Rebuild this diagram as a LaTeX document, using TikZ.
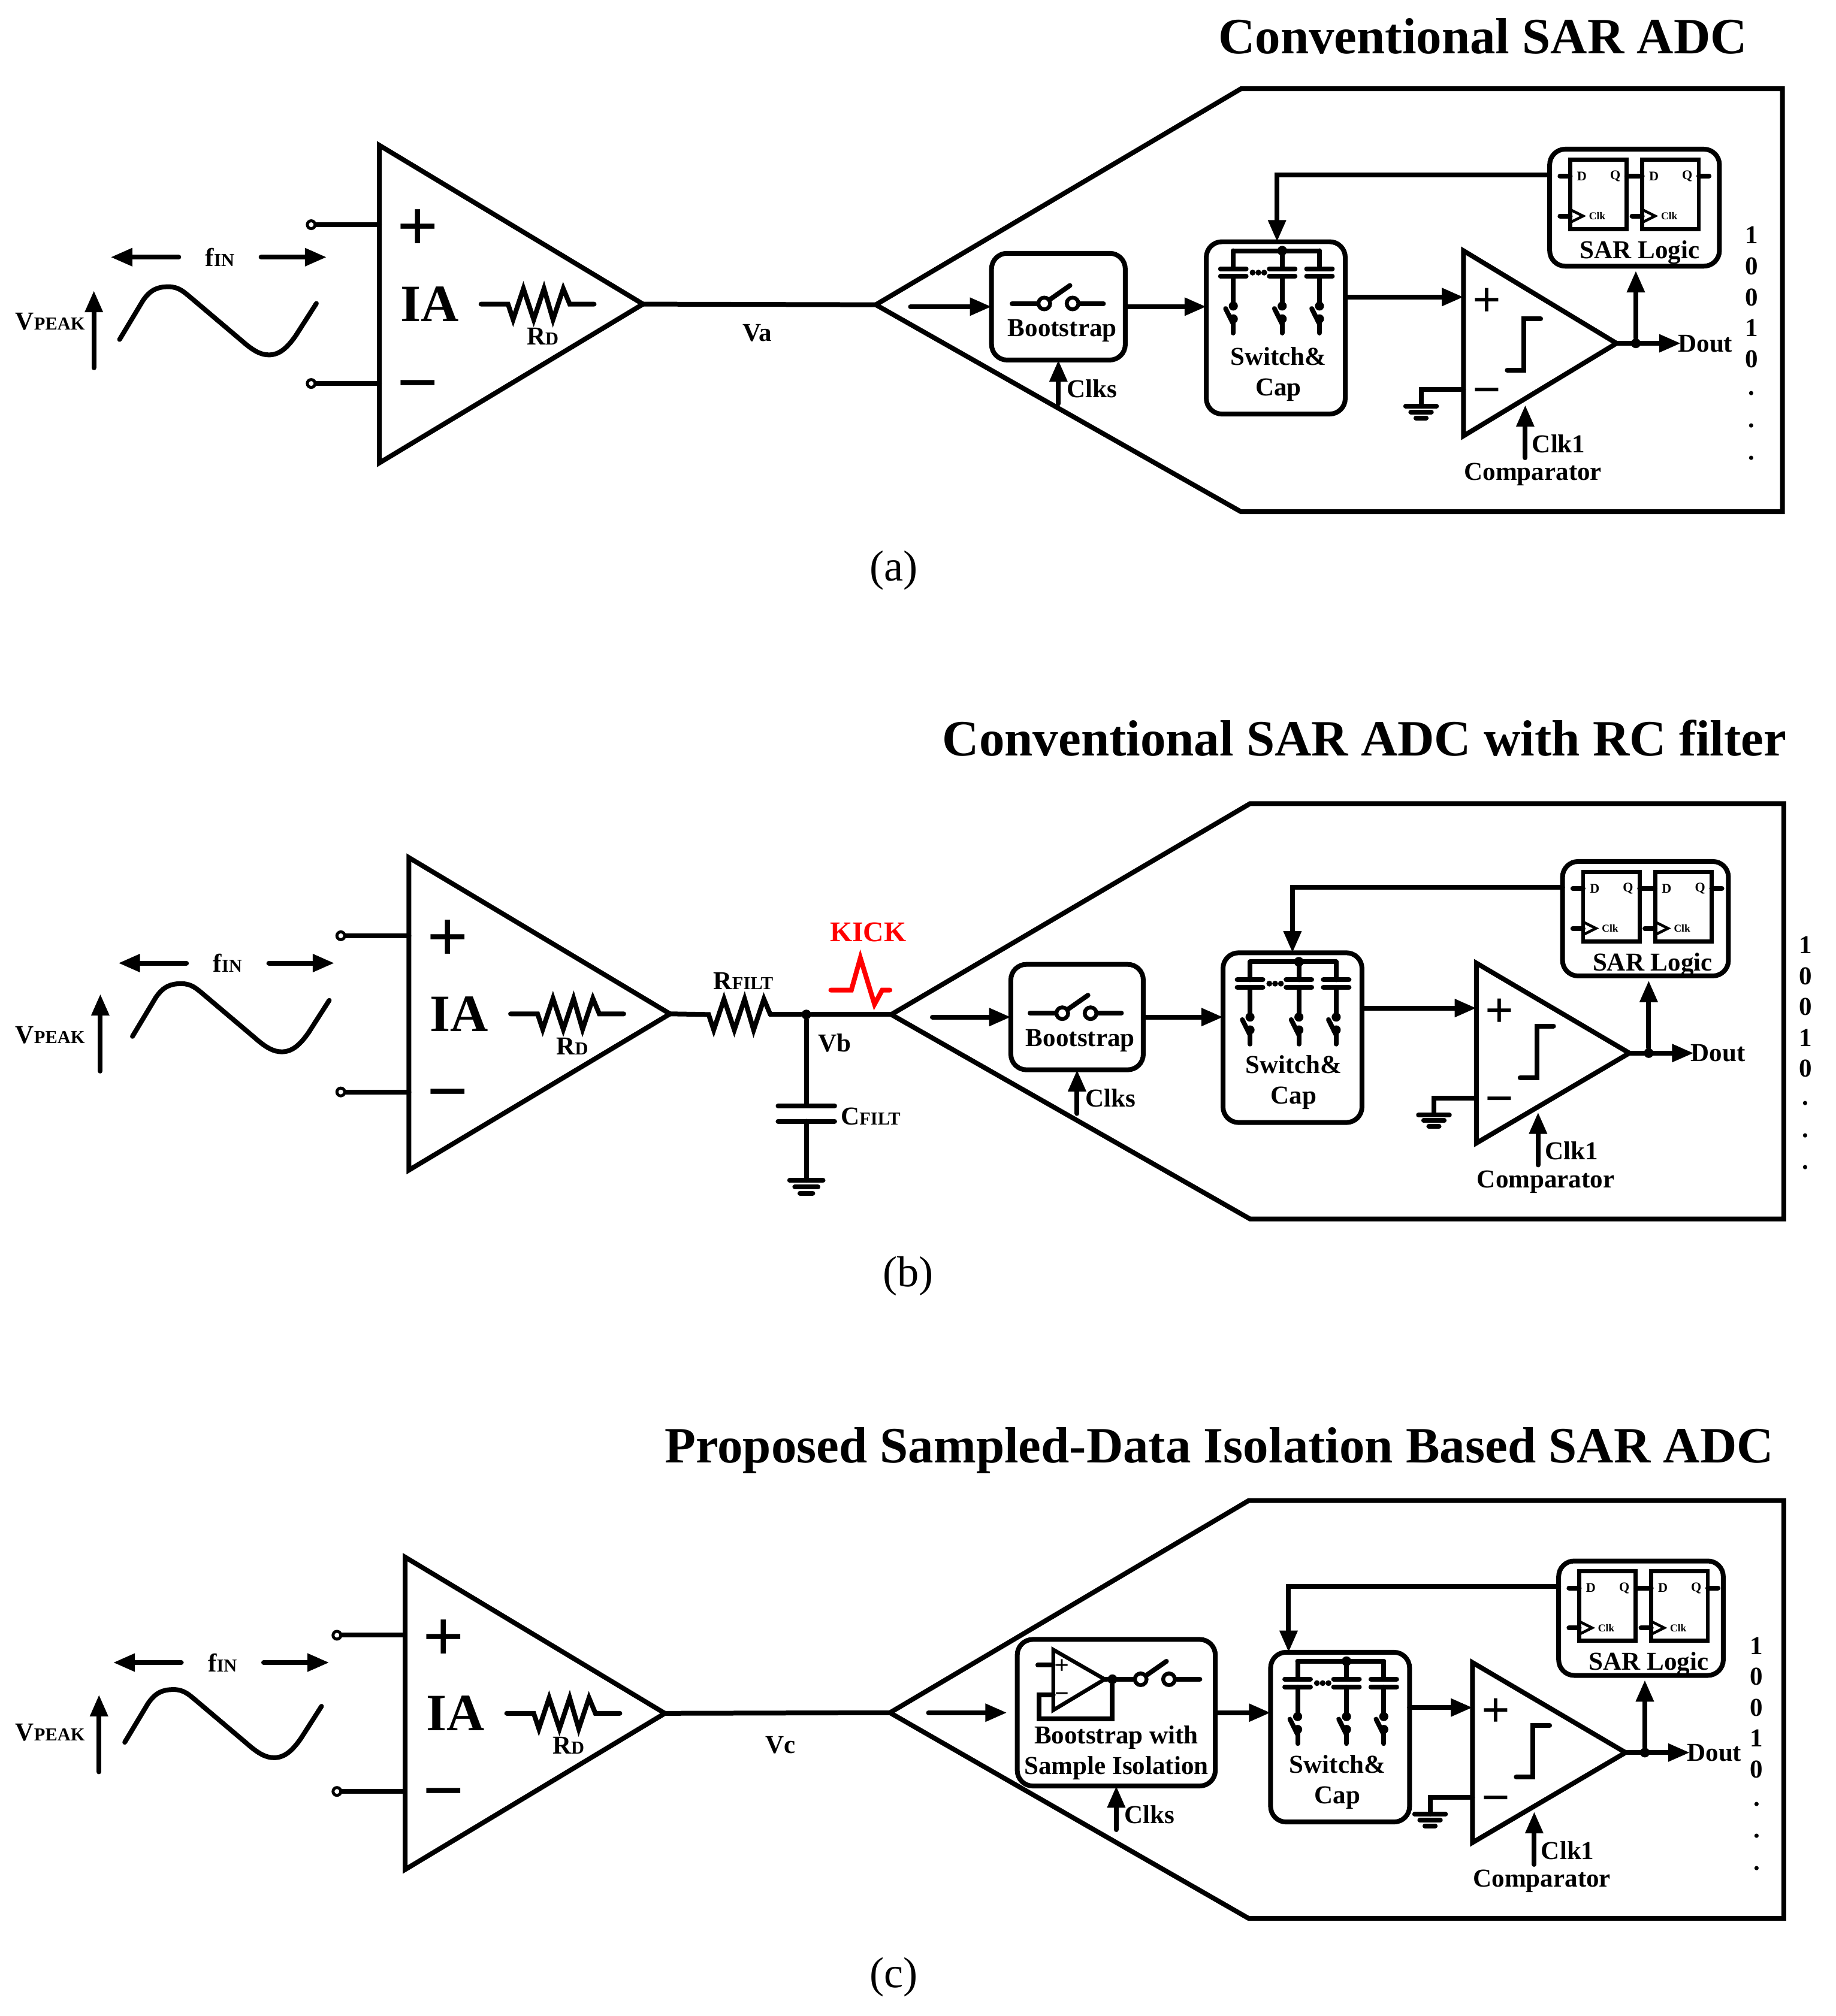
\documentclass[tikz,border=0pt]{standalone}
\usepackage{fontspec}
\setmainfont{Liberation Serif}
\usetikzlibrary{arrows.meta}

\tikzset{
    wire/.style={line width=2.1pt, line cap=round},
    flow/.style={wire, -{Triangle[length=9.5pt,width=7.5pt]}},
    fine/.style={line width=1.2pt},
    shell/.style={line width=2.1pt},
    blockbox/.style={draw, line width=2.1pt, rounded corners=0.24cm, inner sep=0pt, outer sep=0pt, anchor=north west},
    dffbox/.style={draw, line width=1.8pt, inner sep=0pt, outer sep=0pt, anchor=north west, minimum width=0.87cm, minimum height=1.07cm},
    term/.style={circle, draw, line width=1.3pt, fill=white, inner sep=0pt, minimum size=0.12cm},
    swnode/.style={circle, draw, line width=1.7pt, fill=white, inner sep=0pt, minimum size=0.18cm},
    jdot/.style={circle, fill, inner sep=0pt, minimum size=0.15cm},
    lbl/.style={inner sep=0pt, text depth=0pt, font=\bfseries\fontsize{11.3}{13}\selectfont},
    kicklbl/.style={inner sep=0pt, text=red, font=\bfseries\fontsize{12.5}{14}\selectfont},
    titlelbl/.style={inner sep=0pt, text depth=0pt, font=\bfseries\fontsize{22.3}{26}\selectfont},
    caplbl/.style={inner sep=0pt, font=\fontsize{19}{22}\selectfont},
    ialbl/.style={inner sep=0pt, font=\bfseries\fontsize{23}{26}\selectfont},
    bigsign/.style={inner sep=0pt, font=\bfseries\fontsize{32}{32}\selectfont},
    smallsign/.style={inner sep=0pt, font=\bfseries\fontsize{22}{22}\selectfont},
    tinylbl/.style={inner sep=0pt, font=\bfseries\fontsize{5.8}{6}\selectfont},
    clklbl/.style={inner sep=0pt, font=\bfseries\fontsize{4.6}{5}\selectfont},
}

\newcommand{\lo}[1]{{\fontsize{8}{8}\selectfont #1}}
\newcommand{\zigzag}{-- ++(4,12) -- ++(8,-24) -- ++(8,24) -- ++(8,-24) -- ++(7,24) -- ++(8,-24) -- ++(5,12)}

% name, x, y, w, h
\newcommand{\iablock}[5]{
    \begin{scope}[shift={(#2,#3)}]
    \coordinate (#1top) at (0,0);
    \coordinate (#1bot) at (0,#5);
    \coordinate (#1out) at (#4,#5/2);
    \draw[shell] (#1top) -- (#1out) -- (#1bot) -- cycle;
    \node[term] (#1inp) at (-53,#5/4) {};
    \node[term] (#1inn) at (-53,3*#5/4) {};
    \coordinate (#1pinp) at (0,#5/4);
    \coordinate (#1pinn) at (0,3*#5/4);
    \draw[wire] (#1inp) -- (#1pinp);
    \draw[wire] (#1inn) -- (#1pinn);
    \node[bigsign] (#1plus) at (30,#5/4+4) {+};
    \node[bigsign] (#1minus) at (30,3*#5/4+8) {−};
    \node[ialbl] (#1name) at (39,#5/2) {IA};
    \coordinate (#1ra) at (79,#5/2);
    \coordinate (#1rb) at (167,#5/2);
    \draw[wire] (#1ra) -- ++(21,0) \zigzag -- (#1rb);
    \node[lbl] (#1rd) at (127,#5/2+25) {R\lo{D}};
    \end{scope}
}

% name, sine x, sine y, arrow x, arrow top, fin x, fin y, vpeak y
\newcommand{\inputsig}[8]{
    \draw[wire] (#2,#3+41) -- (#2+18,#3+11) .. controls (#2+24,#3+2) and (#2+30,#3) .. (#2+38,#3)
        .. controls (#2+46,#3) and (#2+50,#3+4) .. (#2+56,#3+9) -- (#2+95,#3+42)
        .. controls (#2+104,#3+50) and (#2+110,#3+53) .. (#2+116,#3+53)
        .. controls (#2+124,#3+53) and (#2+130,#3+48) .. (#2+137,#3+38) -- (#2+153,#3+13);
    \coordinate (#1vb) at (#4,#5+60);
    \coordinate (#1vt) at (#4,#5);
    \draw[flow] (#1vb) -- (#1vt);
    \node[lbl] (#1vpeak) at (39,#8) {V\lo{PEAK}};
    \node[lbl] (#1fin) at (#6,#7) {f\lo{IN}};
    \coordinate (#1fla) at (#6-32,#7);
    \coordinate (#1flb) at (#6-85,#7);
    \coordinate (#1fra) at (#6+32,#7);
    \coordinate (#1frb) at (#6+83,#7);
    \draw[flow] (#1fla) -- (#1flb);
    \draw[flow] (#1fra) -- (#1frb);
}

% name, apex x, apex y, corner x, right x, top y, bottom y
\newcommand{\adcshell}[7]{
    \coordinate (#1apex) at (#2,#3);
    \coordinate (#1ca) at (#4,#6);
    \coordinate (#1cb) at (#5,#6);
    \coordinate (#1cc) at (#5,#7);
    \coordinate (#1cd) at (#4,#7);
    \draw[shell] (#1apex) -- (#1ca) -- (#1cb) -- (#1cc) -- (#1cd) -- cycle;
}

% name, x, y
\newcommand{\switchsym}[3]{
    \node[swnode] (#1swa) at (#2,#3) {};
    \node[swnode] (#1swb) at (#2+22,#3) {};
    \coordinate (#1swl) at (#2-25,#3);
    \coordinate (#1swr) at (#2+46,#3);
    \coordinate (#1swt) at (#2+20,#3-14);
    \draw[wire] (#1swl) -- (#1swa);
    \draw[wire] (#1swb) -- (#1swr);
    \draw[wire] (#1swa) -- (#1swt);
}

% name, x, y, w, h
\newcommand{\bootbox}[5]{
    \node[blockbox, minimum width=#4*0.0198cm, minimum height=#5*0.0198cm] (#1boot) at (#2,#3) {};
    \coordinate (#1clk) at (#2+#4/2,#3+#5+34);
    \draw[flow] (#1clk) -- (#1boot.south -| #1clk);
    \node[lbl] (#1clks) at (#2+#4/2+26,#3+#5+22) {Clks};
}

% name, x, y, h, text x
\newcommand{\swcap}[5]{
    \node[blockbox, minimum width=2.14cm, minimum height=#4*0.0198cm] (#1swc) at (#2,#3) {};
    \begin{scope}[shift={(#2,#3)}]
    \coordinate (#1wl) at (21,7);
    \coordinate (#1wr) at (88,7);
    \draw[wire] (#1wl) -- (#1wr);
    \node[jdot] (#1wd) at (59,7) {};
    \foreach \cx in {21,59,88} {
        \draw[wire] (\cx,7) -- (\cx,21);
        \draw[wire] (\cx-10,21) -- (\cx+10,21);
        \draw[wire] (\cx-10,27) -- (\cx+10,27);
        \draw[wire] (\cx,27) -- (\cx,50);
        \fill (\cx,50) circle (0.07cm);
        \draw[wire] (\cx-6,52) -- (\cx,64);
        \fill (\cx,60) circle (0.07cm);
        \draw[wire] (\cx,60) -- (\cx,71);
    }
    \foreach \dx in {36,40.5,45} \fill (\dx,24) circle (0.045cm);
    \node[lbl] (#1swt) at (#5,#4-45) {Switch\&};
    \node[lbl] (#1swu) at (#5,#4-21) {Cap};
    \end{scope}
}

% name, x, y, h
\newcommand{\comparator}[4]{
    \begin{scope}[shift={(#2,#3)}]
    \coordinate (#1ctop) at (0,0);
    \coordinate (#1cbot) at (0,#4);
    \coordinate (#1cout) at (119,#4/2);
    \draw[shell] (#1ctop) -- (#1cout) -- (#1cbot) -- cycle;
    \coordinate (#1cinp) at (0,#4/4);
    \coordinate (#1cinn) at (0,3*#4/4);
    \node[smallsign] (#1cplus) at (18,#4/4+4) {+};
    \node[smallsign] (#1cminus) at (18,3*#4/4+6) {−};
    \draw[wire] (34,#4-51) -- (47,#4-51) -- (47,#4-91) -- (60,#4-91);
    \coordinate (#1cgnd) at (-33,3*#4/4+13);
    \draw[wire] (#1cinn) -| (#1cgnd);
    \foreach \w/\d in {12/0,8/4.5,4/9}
        \draw[wire] (-33-\w,3*#4/4+13+\d) -- (-33+\w,3*#4/4+13+\d);
    \coordinate (#1clka) at (48,#4+17);
    \coordinate (#1clkb) at (48,#4-24);
    \draw[flow] (#1clka) -- (#1clkb);
    \node[lbl] (#1clkt) at (74,#4+6) {Clk1};
    \node[lbl] (#1cmp) at (54,#4+28) {Comparator};
    \node[jdot] (#1cdot) at (134,#4/2) {};
    \coordinate (#1cend) at (169,#4/2);
    \draw[flow] (#1cout) -- (#1cend);
    \node[lbl] (#1dout) at (188,#4/2) {Dout};
    \end{scope}
}

% name, x, y
\newcommand{\dffcell}[3]{
    \node[dffbox] (#1) at (#2,#3) {};
    \node[tinylbl] (#1d) at (#2+9,#3+13) {D};
    \node[tinylbl] (#1q) at (#2+35,#3+13) {Q};
    \node[clklbl] (#1c) at (#2+21,#3+44) {Clk};
    \draw[fine] (#2,#3+39) -- (#2+10,#3+44) -- (#2,#3+49);
    \coordinate (#1ca) at (#2-8,#3+44);
    \coordinate (#1cb) at (#2,#3+44);
    \draw[wire] (#1ca) -- (#1cb);
}

% name, x, y, w, h
\newcommand{\sarlogic}[5]{
    \node[blockbox, minimum width=#4*0.0198cm, minimum height=#5*0.0198cm] (#1sar) at (#2,#3) {};
    \dffcell{#1ffa}{#2+16}{#3+8}
    \dffcell{#1ffb}{#2+72}{#3+8}
    \draw[wire] (#2+8,#3+21) -- (#1ffa.west |- #1ffad);
    \draw[wire] (#1ffa.east |- #1ffad) -- (#1ffb.west |- #1ffad);
    \draw[wire] (#1ffb.east |- #1ffad) -- ++(8,0);
    \node[lbl] (#1sart) at (#2+70,#3+78) {SAR Logic};
    \coordinate (#1fbs) at (#2,#3+20);
}

% name, x, y
\newcommand{\bitcol}[3]{
    \foreach \bitv [count=\i] in {1,0,0,1,0}
        \node[lbl] (#1bit\i) at (#2,#3+24*\i-24) {\bitv};
    \foreach \i in {6,7,8}
        \node[lbl] (#1bit\i) at (#2,#3+25*\i-27) {.};
}

% name, in start x, in end x, feedback x
\newcommand{\adclinks}[4]{
    \coordinate (#1aina) at (#2,0 |- #1boot.west);
    \coordinate (#1ainb) at (#3,0 |- #1boot.west);
    \draw[flow] (#1aina) -- (#1ainb);
    \draw[flow] (#1boot.east) -- (#1boot.east -| #1swc.west);
    \draw[flow] (#1cinp -| #1swc.east) -- (#1cinp);
    \coordinate (#1fbx) at (#4,0 |- #1swc.north);
    \draw[flow] (#1fbs) -| (#1fbx);
    \draw[flow, shorten >=2pt] (#1cdot) -- (#1sar.south -| #1cdot);
}

\begin{document}
\begin{tikzpicture}[x=0.01981cm, y=-0.01981cm]
    \useasboundingbox (0,0) rectangle (1427.6,1567.9);

    % panel a
    \node[titlelbl] (atitle) at (1153,28) {Conventional SAR ADC};
    \iablock{a}{295}{113}{205}{247}
    \inputsig{a}{93}{223}{73}{226}{171}{200}{250}
    \adcshell{a}{681}{237}{965}{1386}{69}{398}
    \draw[wire] (aout) -- (aapex);
    \node[lbl] (ava) at (589,259) {Va};
    \bootbox{a}{771}{197}{104}{83}
    \switchsym{a}{812}{236}
    \node[lbl] (abt) at (826,255) {Bootstrap};
    \swcap{a}{938}{188}{134}{56}
    \comparator{a}{1138}{195}{144}
    \sarlogic{a}{1205}{116}{132}{91}
    \bitcol{a}{1362}{183}
    \adclinks{a}{708}{771}{993}
    \node[caplbl] (acap) at (695,443.5) {(a)};

    % panel b
    \node[titlelbl] (btitle) at (1061,574) {Conventional SAR ADC with RC filter};
    \iablock{b}{318}{667}{203}{243}
    \inputsig{b}{103}{765}{78}{773}{177}{749}{805}
    \adcshell{b}{693}{789}{972}{1387}{625}{948}
    \coordinate (brfa) at (551,789);
    \draw[wire] (bout) -- (brfa) \zigzag coordinate (brfb);
    \node[jdot] (bvb) at (627,789) {};
    \draw[wire] (brfb) -- (bvb) -- (bapex);
    \node[lbl] (brfilt) at (578,763) {R\lo{FILT}};
    \node[lbl] (bvbt) at (649,811) {Vb};
    \coordinate (bcapa) at (627,860);
    \coordinate (bcapb) at (627,872);
    \coordinate (bgnd) at (627,918);
    \draw[wire] (bvb) -- (bcapa);
    \draw[wire] (bcapb) -- (bgnd);
    \draw[wire] (605,860) -- (649,860);
    \draw[wire] (605,872) -- (649,872);
    \foreach \w/\d in {13/0,9/5,5/10}
        \draw[wire] (627-\w,918+\d) -- (627+\w,918+\d);
    \node[lbl] (bcfilt) at (677,868) {C\lo{FILT}};
    \node[kicklbl] (bkick) at (675,725) {KICK};
    \draw[wire, red] (646,770) -- (662,770) -- (669,745) -- (680,781) -- (686,770) -- (692,770);
    \bootbox{b}{786}{750}{103}{82}
    \switchsym{b}{826}{788}
    \node[lbl] (bbt) at (840,807) {Bootstrap};
    \swcap{b}{951}{741}{132}{55}
    \comparator{b}{1148}{749}{140}
    \sarlogic{b}{1215}{670}{129}{89}
    \bitcol{b}{1404}{735}
    \adclinks{b}{725}{786}{1005}
    \node[caplbl] (bcap) at (706,992.5) {(b)};

    % panel c
    \node[titlelbl] (ctitle) at (948,1124) {Proposed Sampled-Data Isolation Based SAR ADC};
    \iablock{c}{315}{1211}{202}{243}
    \inputsig{c}{97}{1314}{77}{1318}{173}{1293}{1347}
    \adcshell{c}{692}{1332}{971}{1387}{1167}{1492}
    \draw[wire] (cout) -- (capex);
    \node[lbl] (cvc) at (607,1357) {Vc};
    \bootbox{c}{791}{1275}{154}{114}
    \coordinate (cbta) at (819,1283);
    \coordinate (cbtb) at (819,1330);
    \coordinate (cbto) at (859,1306);
    \draw[line width=1.7pt] (cbta) -- (cbto) -- (cbtb) -- cycle;
    \node[inner sep=0pt, font=\bfseries\fontsize{11}{11}\selectfont] (cbtp) at (826,1296) {+};
    \node[inner sep=0pt, font=\bfseries\fontsize{11}{11}\selectfont] (cbtm) at (826,1320) {−};
    \coordinate (cbti) at (807,1295);
    \draw[wire] (cbti) -- (819,1295);
    \switchsym{c}{887}{1306}
    \node[jdot] (cbtd) at (865,1306) {};
    \draw[wire] (cbto) -- (cbtd);
    \draw[wire] (cbtd) -- (865,1337) -- (808,1337) -- (808,1318) -- (819,1318);
    \node[lbl] (cbt) at (868,1349) {Bootstrap with};
    \node[lbl] (cbu) at (868,1373) {Sample Isolation};
    \swcap{c}{988}{1285}{132}{52}
    \comparator{c}{1145}{1293}{140}
    \sarlogic{c}{1212}{1214}{128}{89}
    \bitcol{c}{1366}{1280}
    \adclinks{c}{722}{783}{1002}
    \node[caplbl] (ccap) at (695,1537.5) {(c)};
\end{tikzpicture}
\end{document}
